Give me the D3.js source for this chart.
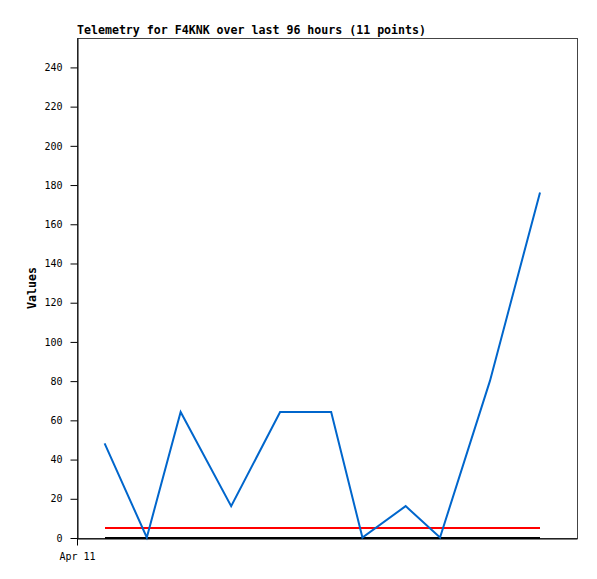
<!DOCTYPE html>
<html><head><meta charset="utf-8">
<script src="https://cdn.jsdelivr.net/npm/d3@7"></script>
<style>
html,body{margin:0;padding:0;background:#fff;}
svg{display:block;}
text{font-family:"DejaVu Sans Mono","Liberation Mono",monospace;}
</style></head>
<body><div id="chart"></div>
<script>
// Data
const titleText = "Telemetry for F4KNK over last 96 hours (11 points)";
const yLabel = "Values";
const hoursSinceStart = [5.3, 13.4, 19.9, 29.6, 39.0, 48.8, 54.8, 63.1, 69.7, 79.3, 88.9];
const values = [48, 0, 64, 16, 64, 64, 0, 16, 0, 80, 176];
const thresholdValues = [5, 0];          // red line, black line
const thresholdColors = ["#ff0000", "#000000"];
const yTicks = [0, 20, 40, 60, 80, 100, 120, 140, 160, 180, 200, 220, 240];
const xTicks = [0];
const xTickLabels = ["Apr 11"];
const xDomain = [0, 96];
const yDomain = [0, 255];

const W = 597, H = 579;
const m = {left: 77, top: 38, right: 20, bottom: 41};
const svg = d3.select("#chart").append("svg").attr("width", W).attr("height", H);

const x = d3.scaleLinear().domain(xDomain).range([m.left, W - m.right]);
const y = d3.scaleLinear().domain(yDomain).range([H - m.bottom, m.top]);

// frame (top/right)
svg.append("rect")
  .attr("x", x(xDomain[0]) + 0.5).attr("y", y(yDomain[1]) + 0.5)
  .attr("width", x(xDomain[1]) - x(xDomain[0])).attr("height", y(yDomain[0]) - y(yDomain[1]))
  .attr("fill", "none").attr("stroke", "#444").attr("stroke-width", 1);

// y axis
const yAxis = svg.append("g").attr("transform", `translate(${x(xDomain[0]) + 0.5},0)`)
  .call(d3.axisLeft(y).tickValues(yTicks).tickSize(7).tickPadding(8).tickSizeOuter(0));
yAxis.select(".domain").attr("stroke", "#000");
yAxis.selectAll("text").attr("font-size", 10).attr("fill", "#000")
  .style("font-family", '"DejaVu Sans Mono",monospace');

// x axis
const xAxis = svg.append("g").attr("transform", `translate(0,${y(0) + 0.5})`)
  .call(d3.axisBottom(x).tickValues(xTicks).tickFormat((d, i) => xTickLabels[i]).tickSize(7).tickPadding(7).tickSizeOuter(0));
xAxis.select(".domain").attr("stroke", "#000");
xAxis.selectAll("text").attr("font-size", 10).attr("fill", "#000")
  .style("font-family", '"DejaVu Sans Mono",monospace');

// threshold lines
const x0 = d3.min(hoursSinceStart), x1 = d3.max(hoursSinceStart);
thresholdValues.forEach((v, i) => {
  svg.append("line")
    .attr("x1", x(x0)).attr("x2", x(x1))
    .attr("y1", y(v)).attr("y2", y(v))
    .attr("stroke", thresholdColors[i]).attr("stroke-width", 2)
    .attr("shape-rendering", "crispEdges");
});

// series line
const line = d3.line().x((d, i) => x(hoursSinceStart[i])).y(d => y(d) - 0.5);
svg.append("path").datum(values)
  .attr("d", line).attr("fill", "none")
  .attr("stroke", "#0066cc").attr("stroke-width", 2)
  .attr("stroke-linejoin", "miter");

// title
svg.append("text").attr("x", 77).attr("y", 34)
  .attr("font-size", 11.6).attr("font-weight", "bold").attr("fill", "#000")
  .text(titleText);

// y label
svg.append("text")
  .attr("transform", `translate(36,${(y(yDomain[0]) + y(yDomain[1])) / 2}) rotate(-90)`)
  .attr("text-anchor", "middle")
  .attr("font-size", 11.6).attr("font-weight", "bold").attr("fill", "#000")
  .text(yLabel);
</script>
</body></html>
